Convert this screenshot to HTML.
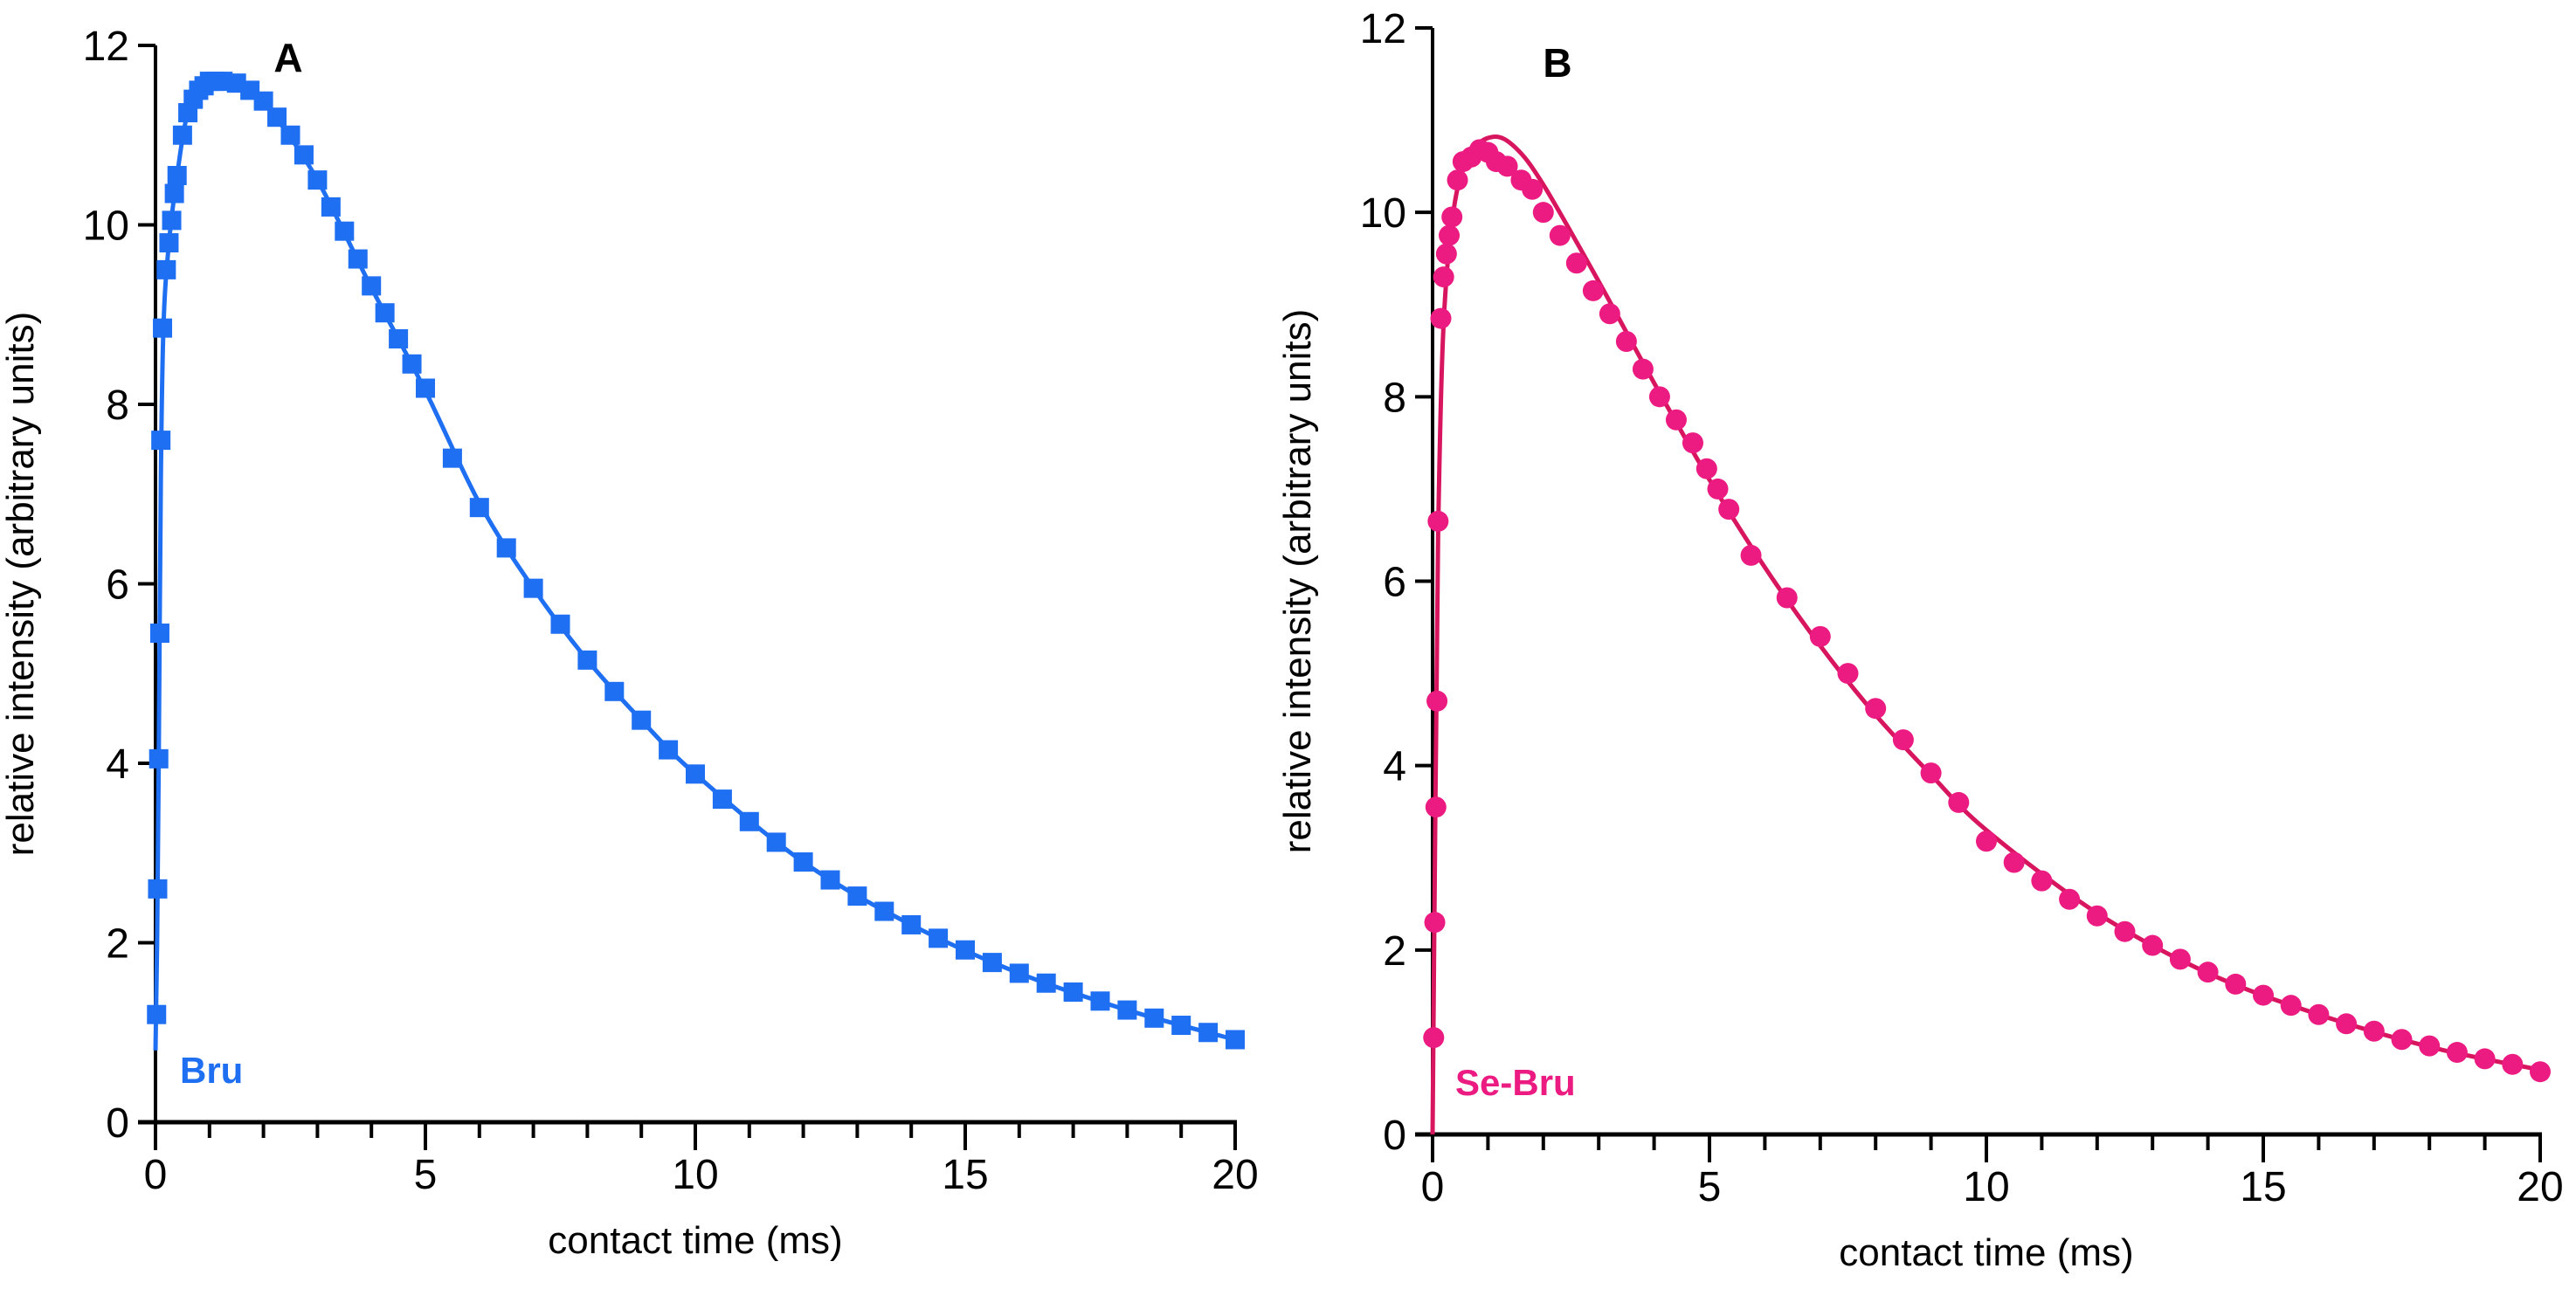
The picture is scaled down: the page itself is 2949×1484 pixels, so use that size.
<!DOCTYPE html>
<html><head><meta charset="utf-8"><style>
html,body{margin:0;padding:0;background:#fff;}
svg{display:block;font-family:"Liberation Sans",Arial,sans-serif;}
</style></head><body>
<svg id="fig" width="2949" height="1484" viewBox="0 0 2949 1484" xmlns="http://www.w3.org/2000/svg"></svg>
<script>
// ---- Panel A data (Bru) ----
const xA = [0.02,0.04,0.06,0.08,0.1,0.13,0.2,0.25,0.3,0.35,0.4,0.5,0.6,0.7,0.8,0.9,1.0,1.1,1.25,1.5,1.75,2.0,2.25,2.5,2.75,3.0,3.25,3.5,3.75,4.0,4.25,4.5,4.75,5.0,5.5,6.0,6.5,7.0,7.5,8.0,8.5,9.0,9.5,10.0,10.5,11.0,11.5,12.0,12.5,13.0,13.5,14.0,14.5,15.0,15.5,16.0,16.5,17.0,17.5,18.0,18.5,19.0,19.5,20.0];
const yA = [1.2,2.6,4.05,5.45,7.6,8.85,9.5,9.8,10.05,10.35,10.55,11.0,11.25,11.4,11.5,11.55,11.6,11.6,11.6,11.58,11.5,11.38,11.2,11.0,10.78,10.5,10.2,9.93,9.62,9.32,9.02,8.73,8.45,8.18,7.4,6.85,6.4,5.95,5.55,5.15,4.8,4.48,4.15,3.88,3.6,3.35,3.12,2.9,2.7,2.52,2.35,2.2,2.05,1.92,1.78,1.66,1.55,1.45,1.35,1.25,1.16,1.08,1.0,0.92];
const fitXA = [0,0.03,0.06,0.1,0.15,0.25,0.4,0.6,0.9,1.3,1.7,2.2,3,4,5,6,7,8,9,10,12,14,16,18,20];
const fitYA = [0.8,2.0,4.0,7.2,8.9,9.8,10.55,11.25,11.55,11.62,11.52,11.22,10.5,9.3,8.15,6.9,5.95,5.15,4.48,3.88,2.9,2.2,1.66,1.25,0.92];
// ---- Panel B data (Se-Bru) ----
const xB = [0.02,0.04,0.06,0.08,0.1,0.15,0.2,0.25,0.3,0.35,0.45,0.55,0.7,0.85,1.0,1.15,1.35,1.6,1.8,2.0,2.3,2.6,2.9,3.2,3.5,3.8,4.1,4.4,4.7,4.95,5.15,5.35,5.75,6.4,7.0,7.5,8.0,8.5,9.0,9.5,10.0,10.5,11.0,11.5,12.0,12.5,13.0,13.5,14.0,14.5,15.0,15.5,16.0,16.5,17.0,17.5,18.0,18.5,19.0,19.5,20.0];
const yB = [1.05,2.3,3.55,4.7,6.65,8.85,9.3,9.55,9.75,9.95,10.35,10.55,10.6,10.68,10.65,10.55,10.5,10.35,10.25,10.0,9.75,9.45,9.15,8.9,8.6,8.3,8.0,7.75,7.5,7.22,7.0,6.78,6.28,5.82,5.4,5.0,4.62,4.28,3.92,3.6,3.18,2.95,2.75,2.55,2.37,2.2,2.05,1.9,1.76,1.63,1.51,1.4,1.3,1.2,1.12,1.03,0.96,0.89,0.82,0.76,0.68];
const fitXB = [0,0.05,0.1,0.2,0.4,0.7,1.1,1.5,2,3,4,5,6,7,8,9,10,12,14,16,18,20];
const fitYB = [0,3.5,6.5,8.8,10.1,10.65,10.82,10.7,10.3,9.25,8.15,7.1,6.15,5.3,4.55,3.9,3.3,2.4,1.75,1.3,0.95,0.7];
const xTicks = [0,5,10,15,20];
const yTicks = [0,2,4,6,8,10,12];

const NS = "http://www.w3.org/2000/svg";
const svg = document.getElementById('fig');
function mk(tag, attrs, parent){const e=document.createElementNS(NS,tag);for(const k in attrs)e.setAttribute(k,attrs[k]);(parent||svg).appendChild(e);return e;}

function smoothPath(pts){
  let d = `M${pts[0][0]},${pts[0][1]}`;
  for(let i=0;i<pts.length-1;i++){
    const p0=pts[Math.max(0,i-1)],p1=pts[i],p2=pts[i+1],p3=pts[Math.min(pts.length-1,i+2)];
    const c1x=p1[0]+(p2[0]-p0[0])/6,c1y=p1[1]+(p2[1]-p0[1])/6;
    const c2x=p2[0]-(p3[0]-p1[0])/6,c2y=p2[1]-(p3[1]-p1[1])/6;
    d+=` C${c1x},${c1y} ${c2x},${c2y} ${p2[0]},${p2[1]}`;
  }
  return d;
}

function panel(cfg){
  const g = mk('g',{});
  
  
  const sx = v => cfg.x0 + (cfg.x20-cfg.x0)*v/20;
  const sy = v => cfg.y0 - (cfg.y0-cfg.y12)*v/12;
  const ya = mk('line',{x1:cfg.x0,y1:sy(0)+2,x2:cfg.x0,y2:sy(12),stroke:'#000','stroke-width':4},g);
  
  
  const xa = mk('line',{x1:cfg.x0-20,y1:cfg.y0,x2:cfg.x20+2,y2:cfg.y0,stroke:'#000','stroke-width':5},g);
  
  
  yTicks.forEach(v=>{
    const t = mk('line',{x1:cfg.x0-20,y1:sy(v),x2:cfg.x0,y2:sy(v),stroke:'#000','stroke-width':4},g);
    
    
    const l = mk('text',{x:cfg.x0-30,y:sy(v)+17,'text-anchor':'end','font-size':48,fill:'#000'},g);
    l.textContent = v;
    
    
  });
  for(let v=0; v<=20; v++){
    const major = xTicks.includes(v);
    const t = mk('line',{x1:sx(v),y1:cfg.y0,x2:sx(v),y2:cfg.y0+(major?32:18),stroke:'#000','stroke-width':4},g);
    
    
  }
  xTicks.forEach(v=>{
    const l = mk('text',{x:sx(v),y:cfg.y0+76,'text-anchor':'middle','font-size':48,fill:'#000'},g);
    l.textContent = v;
    
    
  });
  const xt = mk('text',{x:(cfg.x0+cfg.x20)/2,y:cfg.y0+150,'text-anchor':'middle','font-size':44,fill:'#000'},g);
  xt.textContent = 'contact time (ms)';
  
  
  const yt = mk('text',{x:0,y:0,'text-anchor':'middle','font-size':44,fill:'#000',transform:`translate(${cfg.ytx},${(cfg.y0+cfg.y12)/2}) rotate(-90)`},g);
  yt.textContent = 'relative intensity (arbitrary units)';
  
  
  const pl = mk('text',{x:cfg.lx,y:cfg.ly,'text-anchor':'middle','font-size':46,'font-weight':'bold',fill:'#000'},g);
  pl.textContent = cfg.letter;
  
  
  const sl = mk('text',{x:cfg.sx,y:cfg.sy,'font-size':42,'font-weight':'bold',fill:cfg.color},g);
  sl.textContent = cfg.series;
  
  
  const pts = cfg.fx.map((v,i)=>[sx(v),sy(cfg.fy[i])]);
  const fl = mk('path',{d:smoothPath(pts),fill:'none',stroke:cfg.lineColor,'stroke-width':5},g);
  
  
  cfg.dx.forEach((v,i)=>{
    let m;
    if(cfg.shape==='square'){
      m = mk('rect',{x:sx(v)-11,y:sy(cfg.dy[i])-11,width:22,height:22,fill:cfg.color},g);
    } else {
      m = mk('circle',{cx:sx(v),cy:sy(cfg.dy[i]),r:12,fill:cfg.color},g);
    }
    
    
  });
}

panel({name:'panel-a-chart',x0:178,x20:1414,y0:1285,y12:52,ytx:38,lx:330,ly:82,letter:'A',
  sx:206,sy:1240,series:'Bru',color:'#1f6ff2',lineColor:'#1f6ff2',shape:'square',
  dx:xA,dy:yA,fx:fitXA,fy:fitYA});
panel({name:'panel-b-chart',x0:1640,x20:2908,y0:1299,y12:32,ytx:1500,lx:1783,ly:88,letter:'B',
  sx:1666,sy:1254,series:'Se-Bru',color:'#ec1b82',lineColor:'#d8155f',shape:'circle',
  dx:xB,dy:yB,fx:fitXB,fy:fitYB});
</script>
</body></html>
